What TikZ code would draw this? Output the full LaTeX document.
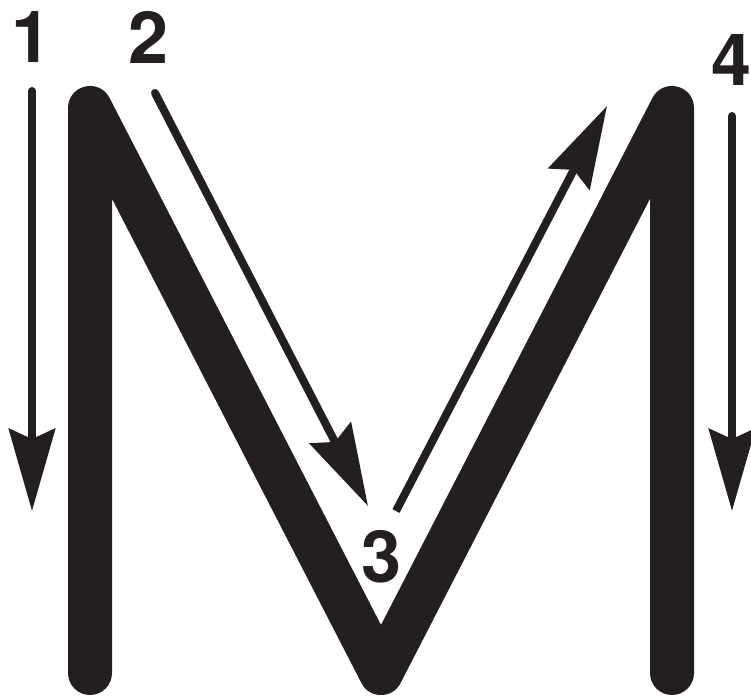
\documentclass[tikz,border=0pt]{standalone}
\usepackage{fontspec}
\setmainfont{TeX Gyre Heros}
\usepackage{tikz}
\usetikzlibrary{arrows.meta, positioning, calc}
\usepackage{xcolor}
\definecolor{inkblack}{RGB}{35, 31, 32}

\begin{document}
\begin{tikzpicture}[x=0.75pt, y=-0.75pt,
  stroke/.style={-{Stealth[length=61.5pt, width=34.5pt, inset=7.5pt]}, line width=6pt, line cap=round, inkblack},
  digit/.style={text=inkblack, font=\fontsize{54}{54}\selectfont\bfseries, inner sep=0pt}]
\useasboundingbox (0,0) rectangle (751,698);
% the letter
\draw[line width=33pt, line cap=round, line join=round, inkblack]
  (90,673) -- (90,108) -- (381,673) -- (672,108) -- (672,673);
% stroke order
\coordinate (s1) at (32,91);   \coordinate (e1) at (32,511);
\coordinate (s2) at (155,93);  \coordinate (e2) at (368,506);
\coordinate (s3) at (396,511); \coordinate (e3) at (607,106);
\coordinate (s4) at (732,116); \coordinate (e4) at (732,511);
\draw[stroke] (s1) -- (e1);
\draw[stroke] (s2) -- (e2);
\draw[stroke, line cap=butt] (s3) -- (e3);
\draw[stroke] (s4) -- (e4);
\node[digit] (n1) at (32,37) {1};
\node[digit] (n2) at (149,37) {2};
\node[digit] (n3) at (382,557) {3};
\node[digit] (n4) at (732,60) {4};
\end{tikzpicture}
\end{document}
